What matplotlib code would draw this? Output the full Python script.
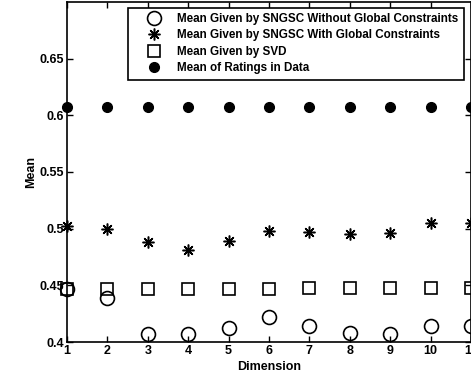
import numpy as np
from matplotlib import pyplot as plt

# values
dims = [1, 2, 3, 4, 5, 6, 7, 8, 9, 10, 11]
mean_without_gc = [0.447, 0.439, 0.407, 0.407, 0.412, 0.422, 0.414, 0.408, 0.407, 0.414, 0.414]
mean_with_gc = [0.502, 0.500, 0.488, 0.481, 0.489, 0.498, 0.497, 0.495, 0.496, 0.505, 0.505]
mean_svd = [0.447, 0.447, 0.447, 0.447, 0.447, 0.447, 0.448, 0.448, 0.448, 0.448, 0.448]
mean_data = [0.607, 0.607, 0.607, 0.607, 0.607, 0.607, 0.607, 0.607, 0.607, 0.607, 0.607]

labels = [
    "Mean Given by SNGSC Without Global Constraints",
    "Mean Given by SNGSC With Global Constraints",
    "Mean Given by SVD",
    "Mean of Ratings in Data",
]

plt.rcParams['font.family'] = ['Liberation Sans', 'DejaVu Sans']
plt.rcParams['font.weight'] = 'bold'

fig = plt.figure(figsize=(4.71, 3.79), dpi=100)
ax = fig.add_axes([67 / 471, 37 / 379, 404 / 471, 340 / 379])

ax.plot(dims, mean_without_gc, linestyle='none', marker='o', markersize=10,
        markerfacecolor='none', markeredgecolor='black', markeredgewidth=1.2,
        clip_on=False, label=labels[0])
ax.plot(dims, mean_with_gc, linestyle='none', marker=(8, 2, 0), markersize=8.5,
        color='black', markeredgewidth=1.1, clip_on=False, label=labels[1])
ax.plot(dims, mean_svd, linestyle='none', marker='s', markersize=8.5,
        markerfacecolor='none', markeredgecolor='black', markeredgewidth=1.2,
        clip_on=False, label=labels[2])
ax.plot(dims, mean_data, linestyle='none', marker='o', markersize=7,
        color='black', clip_on=False, label=labels[3])

ax.set_xlim(1, 11)
ax.set_ylim(0.4, 0.7)
ax.set_xticks(dims)
ax.set_yticks([0.4, 0.45, 0.5, 0.55, 0.6, 0.65])
ax.set_yticklabels(["0.4", "0.45", "0.5", "0.55", "0.6", "0.65"])
ax.tick_params(direction='in', top=True, right=True, length=4, width=1,
               labelsize=9, pad=2)
for s in ax.spines.values():
    s.set_linewidth(1.2)

ax.set_xlabel("Dimension", fontsize=9, fontweight='bold', labelpad=3)
ax.set_ylabel("Mean", fontsize=9, fontweight='bold', labelpad=2)

leg = ax.legend(loc='upper right', bbox_to_anchor=(0.982, 0.983), fontsize=8.4,
                frameon=True, fancybox=False, edgecolor='black', framealpha=1,
                borderpad=0.45, labelspacing=0.38, handletextpad=0.2,
                handlelength=3.6, borderaxespad=0)
leg.get_frame().set_linewidth(1.2)
for t in leg.get_texts():
    t.set_fontweight('bold')

plt.savefig("out.png", dpi=100)
